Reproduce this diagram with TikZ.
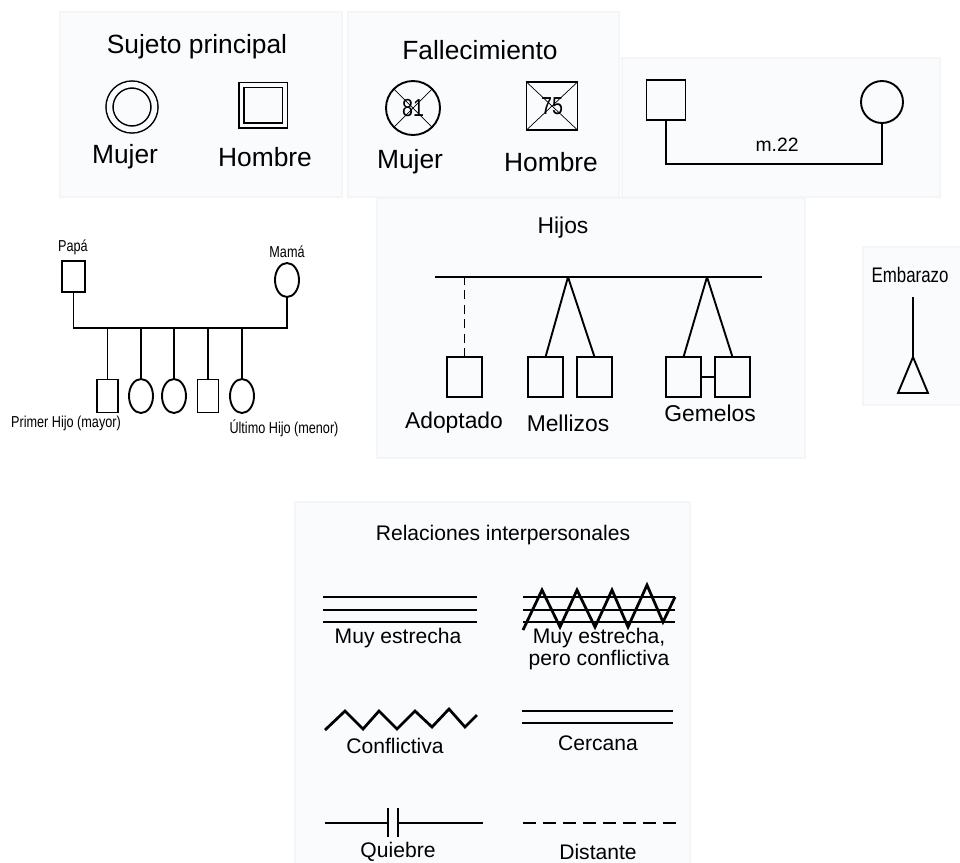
\documentclass[tikz,border=0pt]{standalone}
\usepackage{fontspec}
\setmainfont{Liberation Sans}
\newfontfamily\narrowfont{Liberation Sans}[FakeStretch=0.8]
\usetikzlibrary{shapes.geometric}
\definecolor{panelbg}{RGB}{250,251,252}
\definecolor{panelln}{RGB}{243,245,248}

\begin{document}
\begin{tikzpicture}[x=0.2mm, y=-0.2mm, semithick,
    box/.style={draw=panelln, fill=panelbg},
    ln/.style={line width=0.38mm},
    sym/.style={draw, line width=0.38mm, inner sep=0pt, outer sep=0pt},
    masc/.style={sym, rectangle},
    fem/.style={sym, ellipse},
    kidm/.style={masc, minimum width=4.2mm, minimum height=6.6mm},
    kidf/.style={fem, minimum width=4.8mm, minimum height=6.8mm},
    kid/.style={masc, minimum width=7mm, minimum height=8mm},
    big/.style={font=\fontsize{15}{18}\selectfont},
    mid/.style={font=\fontsize{13}{16}\selectfont},
    num/.style={font=\narrowfont\fontsize{14}{16}\selectfont},
    small/.style={font=\narrowfont\fontsize{9}{11}\selectfont},
    rel/.style={font=\fontsize{12}{12.5}\selectfont},
    tie/.style={line width=0.55mm}]
    \useasboundingbox (0,0) rectangle (960,862);

    \draw[box] (60,12) rectangle (342,197);
    \draw[box] (348,12) rectangle (619,197);
    \draw[box] (622,58) rectangle (940,197);
    \draw[box] (377,198) rectangle (805,458);
    \draw[box] (863,247) rectangle (962,405);
    \draw[box] (295,502) rectangle (690,864);

    \node[big] (sujT) at (197,47) {Sujeto principal};
    \node[sym, circle, double, double=panelbg, double distance=1.1mm, line width=0.3mm, minimum size=9mm] (sujF) at (132,107) {};
    \node[sym, rectangle, double, double=panelbg, double distance=0.7mm, line width=0.3mm, minimum width=8.7mm, minimum height=8.1mm] (sujM) at (263,105) {};
    \node[big] (sujFl) at (125,157) {Mujer};
    \node[big] (sujMl) at (265,157) {Hombre};

    \node[big] (falT) at (480,50) {Fallecimiento};
    \node[sym, circle, num, minimum size=10.8mm] (falF) at (413,108) {81};
    \node[masc, num, minimum width=10.2mm, minimum height=9.6mm] (falM) at (552,106) {75};
    \draw[thin] (falF.north west) -- (falF.south east) (falF.north east) -- (falF.south west);
    \draw[thin] (falM.north west) -- (falM.south east) (falM.north east) -- (falM.south west);
    \node[big] (falFl) at (410,162) {Mujer};
    \node[big] (falMl) at (551,162) {Hombre};

    \node[masc, minimum width=7.8mm, minimum height=8mm] (mSq) at (666,100) {};
    \node[sym, circle, minimum size=8.4mm] (mCi) at (882,102) {};
    \coordinate (mBar) at (777,164);
    \draw[ln] (mSq.south) |- (mBar) -| (mCi.south);
    \node[font=\fontsize{11}{13}\selectfont] (mLbl) at (777,145) {m.22};

    \node[small] (papaL) at (73,247) {Papá};
    \node[masc, minimum width=4.6mm, minimum height=6.2mm] (papa) at (73.5,276.5) {};
    \node[small] (mamaL) at (287,252) {Mamá};
    \node[fem, minimum width=4.8mm, minimum height=6.8mm] (mama) at (287,280) {};
    \coordinate (famBar) at (180,328);
    \draw[ln] (papa.south) |- (famBar) -| (mama.south);
    \foreach \x/\s/\n in {107.5/kidm/h1, 141/kidf/h2, 174/kidf/h3, 208/kidm/h4, 242/kidf/h5} {
        \node[\s] (\n) at (\x,396) {};
        \draw[ln] (\n.north) -- (\n.north |- famBar);
    }
    \node[small] (h1L) at (66,423) {Primer Hijo (mayor)};
    \node[small] (h5L) at (284,428) {Último Hijo (menor)};

    \node[mid] (hijT) at (563,228) {Hijos};
    \coordinate (hL) at (435,277);
    \coordinate (hR) at (762,277);
    \coordinate (melA) at (568,277);
    \coordinate (gemA) at (707,277);
    \draw[ln] (hL) -- (hR);
    \node[kid] (adop) at (464.5,377) {};
    \node[kid] (mel1) at (545.5,377) {};
    \node[kid] (mel2) at (594.5,377) {};
    \node[kid] (gem1) at (683.5,377) {};
    \node[kid] (gem2) at (732.5,377) {};
    \draw[ln, dash pattern=on 1.8mm off 1.1mm] (adop.north) -- (adop.north |- hL);
    \path[ln]
    (melA) edge (mel1.north)
    (melA) edge (mel2.north)
    (gemA) edge (gem1.north)
    (gemA) edge (gem2.north)
    (gem1) edge (gem2);
    \node[mid] (adopL) at (454,423) {Adoptado};
    \node[mid] (melL) at (568,423) {Mellizos};
    \node[mid] (gemL) at (710,413) {Gemelos};

    \node[font=\narrowfont\fontsize{12}{14}\selectfont] (embL) at (910,275) {Embarazo};
    \coordinate (embA) at (913,297);
    \coordinate (embT) at (913,357);
    \draw[ln] (embA) -- (embT);
    \draw[ln] (embT) -- ++(-15,36) -- ++(30,0) -- cycle;

    \node[rel] (relT) at (503,535) {Relaciones interpersonales};
    \foreach \y in {597,610,622} {
        \draw[tie] (323,\y) -- (477,\y);
        \draw[tie] (523,\y) -- (675,\y);
    }
    \draw[tie] (523,630) -- (542,590) -- (560,627) -- (577,590) -- (595,627) -- (612,590)
        -- (628,627) -- (647,585) -- (663,622) -- (675,597);
    \node[rel] (r1L) at (398,638) {Muy estrecha};
    \node[rel, align=center] (r2L) at (599,649) {Muy estrecha,\\pero conflictiva};

    \draw[tie] (325,730) -- (345,711) -- (363,729) -- (379,711) -- (397,729) -- (415,711)
        -- (432,727) -- (449,709) -- (465,727) -- (477,715);
    \node[rel] (r3L) at (395,746) {Conflictiva};
    \foreach \y in {711,723}
        \draw[tie] (522,\y) -- (673,\y);
    \node[rel] (r4L) at (598,743) {Cercana};

    \draw[tie] (325,823) -- (388,823) (398,823) -- (483,823)
        (388,808) -- (388,837) (398,808) -- (398,837);
    \node[rel] (r5L) at (398,852) {Quiebre};
    \draw[tie, dash pattern=on 2.6mm off 1.4mm] (523,823) -- (677,823);
    \node[rel] (r6L) at (598,852) {Distante};
\end{tikzpicture}
\end{document}
